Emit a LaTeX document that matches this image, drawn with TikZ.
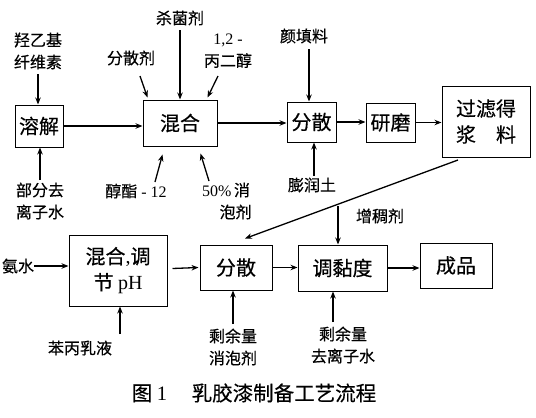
\documentclass[tikz,border=0pt]{standalone}
\usepackage{fontspec}
\setmainfont{Noto Sans CJK SC}[FakeBold=0.4,AutoFakeBold=0.4]
\newfontfamily\latf{Liberation Serif}
\newcommand\lat{\latf\mdseries}
\usetikzlibrary{arrows.meta,calc}
\begin{document}
\begin{tikzpicture}[x=1pt,y=-1pt,
  box/.style={draw,line width=1pt,inner sep=0pt,align=center,font=\fontsize{20}{26}\bfseries},
  lbl/.style={inner sep=0pt,align=center,font=\fontsize{16}{22}\bfseries},
  arr/.style={line width=1.3pt,-{Stealth[length=7pt,width=5.5pt]}}]
\useasboundingbox (0,0) rectangle (536,418);
% boxes
\node[box,minimum width=48pt,minimum height=42pt] (rj) at (39,126) {溶解};
\node[box,minimum width=74pt,minimum height=46pt] (hh) at (180,123) {混合};
\node[box,minimum width=49pt,minimum height=40pt] (fs1) at (311.5,122) {分散};
\node[box,minimum width=49pt,minimum height=39pt] (ym) at (390.5,122.5) {研磨};
\node[box,minimum width=88pt,minimum height=71pt] (gl) at (486,121.5) {过滤得\\浆\hspace{1em}料};
\node[box,minimum width=98pt,minimum height=71pt] (tj) at (118,270.5) {混合{\lat ,}调\\节 {\lat pH}\hspace{1.2em}};
\node[box,minimum width=72pt,minimum height=45pt] (fs2) at (236,267.5) {分散};
\node[box,minimum width=89pt,minimum height=46pt] (tnd) at (342.5,268) {调黏度};
\node[box,minimum width=72pt,minimum height=45pt] (cp) at (456,265.5) {成品};
% labels
\node[lbl] (l1) at (38,51) {羟乙基\\纤维素};
\node[lbl] (l2) at (40,201) {部分去\\离子水};
\node[lbl] (l3) at (131,58) {分散剂};
\node[lbl] (l4) at (180,18) {杀菌剂};
\node[lbl] (l5) at (228,51) {{\lat 1,2 -}\\丙二醇};
\node[lbl] (l6) at (136,191) {醇酯{\lat\ -\ 12}};
\node[lbl] (l7) at (226,201) {{\lat 50\%}\,消\\\hspace{1.2em}泡剂};
\node[lbl] (l8) at (304,36) {颜填料};
\node[lbl] (l9) at (312,185) {膨润土};
\node[lbl] (l10) at (18,266) {氨水};
\node[lbl] (l11) at (80,348) {苯丙乳液};
\node[lbl] (l12) at (233,347) {剩余量\\消泡剂};
\node[lbl] (l13) at (380,216) {增稠剂};
\node[lbl] (l14) at (343,345) {剩余量\\去离子水};
\node[inner sep=0pt,font=\fontsize{20.5}{22}\bfseries] (cap) at (254,393) {图 {\lat 1}\hspace{1.2em}乳胶漆制备工艺流程};
% coordinates for free ends
\coordinate (a1) at (38,74);
\coordinate (a2) at (40,180);
\coordinate (a3) at (140,76);
\coordinate (a4) at (180,30);
\coordinate (a5) at (218,76);
\coordinate (a6) at (155,182);
\coordinate (a7) at (209,181);
\coordinate (a8) at (309,49);
\coordinate (a9) at (314,176);
\coordinate (ag) at (458,160);
\coordinate (a11) at (120,334);
\coordinate (a12) at (233,324);
\coordinate (a13) at (338,206);
\coordinate (a14) at (333,322);
% arrows
\draw[arr] (a1) -- (a1 |- rj.north);
\draw[arr] (a2) -- (a2 |- rj.south);
\draw[arr] (rj.east) -- (rj.east -| hh.west);
\draw[arr] (a3) -- ($(hh.north west)+(5,-2)$);
\draw[arr] (a4) -- (a4 |- hh.north);
\draw[arr] (a5) -- ($(hh.north east)+(-10,-2)$);
\draw[arr] (a6) -- ($(hh.south west)+(20,8)$);
\draw[arr] (a7) -- ($(hh.south east)+(-17,7)$);
\draw[arr] (hh.east) -- (hh.east -| fs1.west);
\draw[arr] (a8) -- (a8 |- fs1.north);
\draw[arr] (a9) -- (a9 |- fs1.south);
\draw[arr] (fs1.east) -- (fs1.east -| ym.west);
\draw[arr] (ym.east) -- (ym.east -| gl.west);
\draw[arr] (ag) -- ($(fs2.north)+(9,-6)$);
\draw[arr] (l10.east) -- (l10.east -| tj.west);
\draw[arr] ($(tj.east)+(5,-2)$) -- ($(fs2.west)+(-1,0)$);
\draw[arr] (a11) -- (a11 |- tj.south);
\draw[arr] (a12) -- (a12 |- fs2.south);
\draw[arr] (fs2.east) -- (fs2.east -| tnd.west);
\draw[arr] (a13) -- (a13 |- tnd.north);
\draw[arr] (a14) -- (a14 |- tnd.south);
\draw[arr] (tnd.east) -- (tnd.east -| cp.west);
\end{tikzpicture}
\end{document}
